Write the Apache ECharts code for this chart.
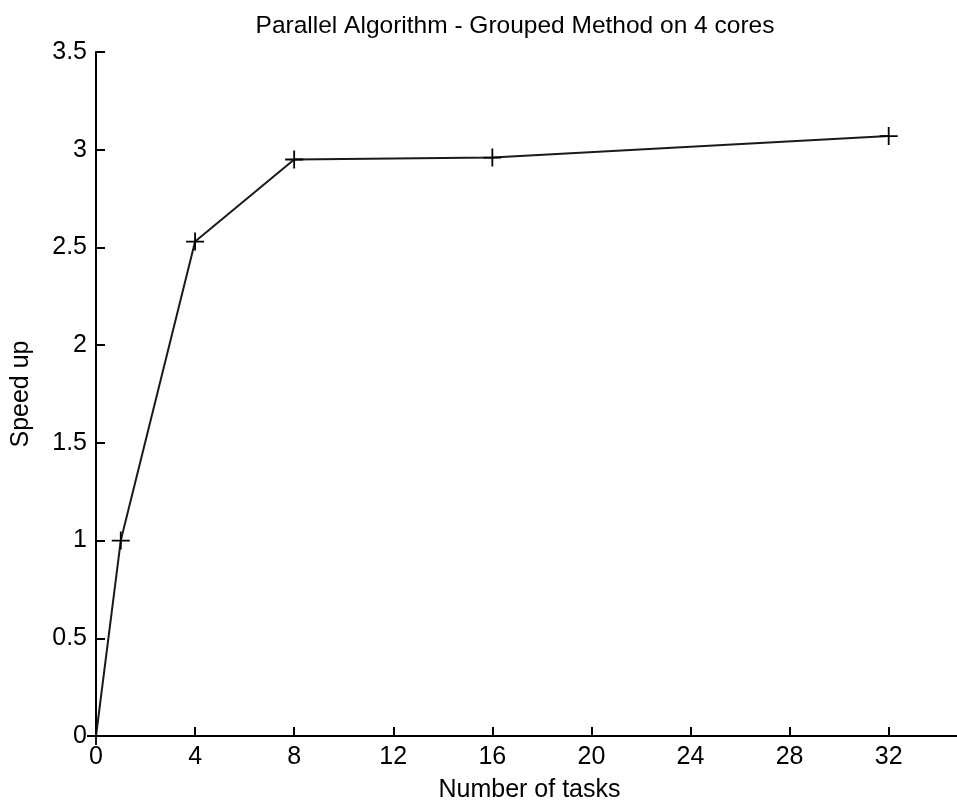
<!DOCTYPE html>
<html><head><meta charset="utf-8">
<script src="https://cdn.jsdelivr.net/npm/echarts@6/dist/echarts.min.js"></script>
<style>html,body{margin:0;padding:0;background:#fff}#c{width:957px;height:806px}</style>
</head><body><div id="c"></div>
<script>
const titleText = 'Parallel Algorithm - Grouped Method on 4 cores';
const xName = 'Number of tasks';
const yName = 'Speed up';
const tasks = [0, 1, 4, 8, 16, 32];
const speedup = [0, 1.0, 2.53, 2.95, 2.96, 3.07];

const font = 'Liberation Sans, Arial, sans-serif';
const chart = echarts.init(document.getElementById('c'));
chart.setOption({
  backgroundColor: '#fff',
  animation: false,
  title: {text: titleText, left: 510, textAlign: 'center', top: 9,
    textStyle: {fontFamily: font, fontWeight: 'normal', fontSize: 24.5, color: '#000'}},
  grid: {left: 96, right: -6, top: 52, bottom: 70, outerBoundsMode: 'none', containLabel: false},
  xAxis: {type: 'value', min: 0, max: 35, interval: 4,
    name: xName, nameLocation: 'middle', nameGap: 42,
    nameTextStyle: {fontFamily: font, fontSize: 25, color: '#000'},
    axisLine: {lineStyle: {color: '#000', width: 2}},
    axisTick: {inside: true, length: 9, lineStyle: {color: '#000', width: 2}},
    axisLabel: {fontFamily: font, fontSize: 25, color: '#000', margin: 9, showMaxLabel: false},
    splitLine: {show: false}},
  yAxis: {type: 'value', min: 0, max: 3.5, interval: 0.5,
    name: yName, nameLocation: 'middle', nameGap: 62, nameRotate: 90,
    nameTextStyle: {fontFamily: font, fontSize: 25, color: '#000'},
    axisLine: {show: true, lineStyle: {color: '#000', width: 2}},
    axisTick: {show: true, inside: true, length: 9, lineStyle: {color: '#000', width: 2}},
    axisLabel: {fontFamily: font, fontSize: 25, color: '#000', margin: 9},
    splitLine: {show: false}},
  series: [{type: 'line', data: tasks.map((t, i) => [t, speedup[i]]),
    lineStyle: {color: '#1a1a1a', width: 2},
    symbol: 'path://M-1,-10H1V10H-1Z M-10,-1H10V1H-10Z', symbolSize: 18,
    itemStyle: {color: '#000'}}]
});
</script></body></html>
